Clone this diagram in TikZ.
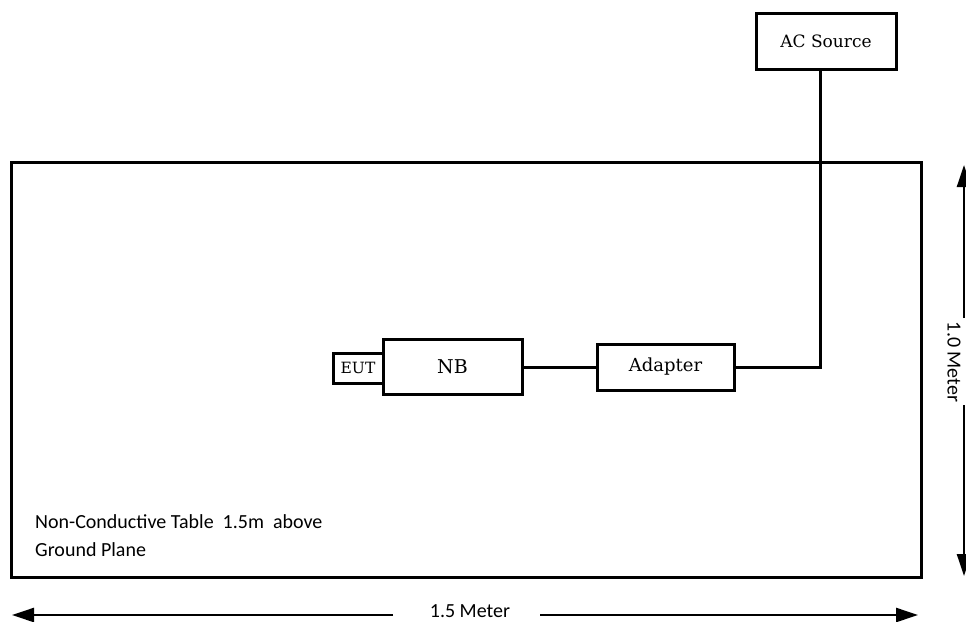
\documentclass[tikz,border=0pt]{standalone}
\usepackage{fontspec}
\newfontfamily\sansfont{Carlito}
\newfontfamily\boxfont{DejaVu Serif}
\usetikzlibrary{arrows.meta,calc}
\begin{document}
\begin{tikzpicture}[x=1pt,y=-1pt,
  boxed/.style={draw,line width=3pt,fill=white,inner sep=0pt,font=\boxfont\fontsize{17}{20}\selectfont},
  wire/.style={line width=3pt},
  dimarrow/.style={line width=2.5pt,-{Triangle[length=22pt,width=14pt]}},
  sanslabel/.style={font=\sansfont\fontsize{20}{24}\selectfont,inner sep=0pt}]
\useasboundingbox (0,0) rectangle (966,621);
% table
\node[draw,line width=3pt,minimum width=910pt,minimum height=415pt,inner sep=0pt] (table) at (466,369.5) {};
\node[sanslabel,anchor=base west] (t1) at (35,528) {Non-Conductive Table~~1.5m~~above};
\node[sanslabel,anchor=base west] (t2) at (35,556) {Ground Plane};
% boxes
\node[boxed,minimum width=140pt,minimum height=56pt] (ac) at (826,41) {AC Source};
\node[boxed,minimum width=139pt,minimum height=55pt,font=\boxfont\fontsize{19}{22}\selectfont] (nb) at (452.5,367) {NB};
\node[boxed,minimum width=50pt,minimum height=30pt,font=\boxfont\fontsize{15.5}{18}\selectfont] (eut) at (358,368) {EUT};
\node[boxed,minimum width=137pt,minimum height=46pt,font=\boxfont\fontsize{18}{21}\selectfont] (adapter) at (665.5,367) {Adapter};
% connectors
\draw[wire] (nb.east) -- (adapter.west);
\draw[wire] (adapter.east) -| ([xshift=-6pt]ac.south);
% bottom dimension
\node[sanslabel] (w) at (470,611) {1.5 Meter};
\coordinate (wl) at (393,615);
\coordinate (wr) at (540,615);
\coordinate (wlt) at (12,615);
\coordinate (wrt) at (918,615);
\draw[dimarrow] (wl) -- (wlt);
\draw[dimarrow] (wr) -- (wrt);
% right dimension
\node[sanslabel,rotate=-90] (h) at (954,362) {1.0 Meter};
\coordinate (ht) at (964,318);
\coordinate (hb) at (964,405);
\coordinate (htt) at (964,165);
\coordinate (hbt) at (964,576);
\draw[dimarrow] (ht) -- (htt);
\draw[dimarrow] (hb) -- (hbt);
\end{tikzpicture}
\end{document}
